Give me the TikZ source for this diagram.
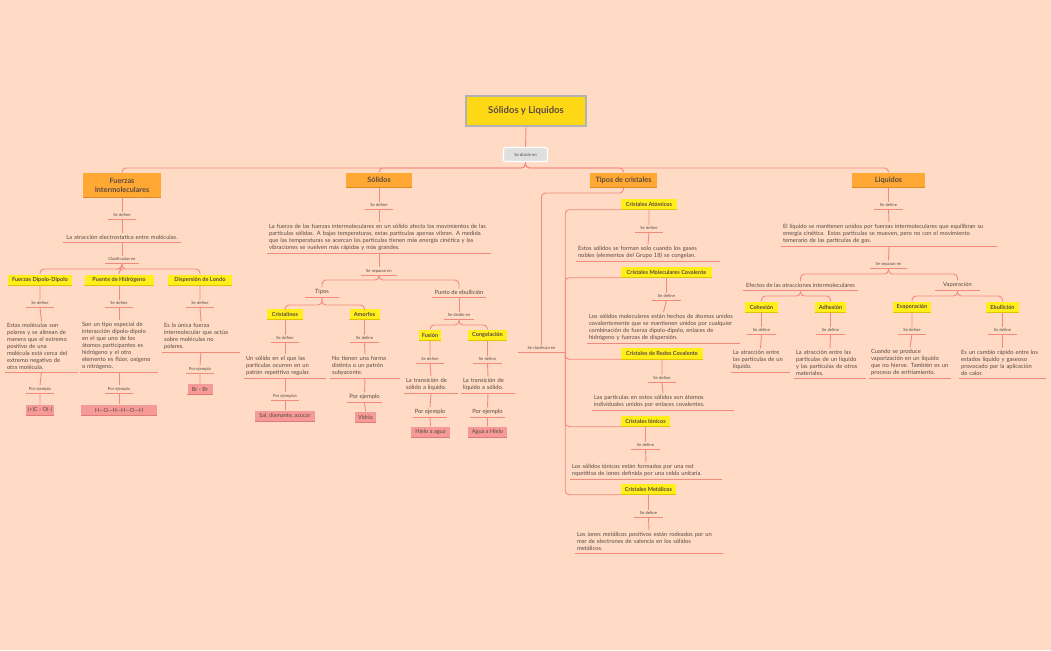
\documentclass[tikz,border=0pt]{standalone}
\usepackage{fontspec}
\setmainfont{Lato}
\definecolor{bg}{HTML}{FFDBC5}
\definecolor{lc}{HTML}{F2897A}
\definecolor{tc}{HTML}{5A4A42}
\definecolor{yc}{HTML}{FFEE1A}
\definecolor{yb}{HTML}{E0C400}
\definecolor{oc}{HTML}{FFA833}
\definecolor{ob}{HTML}{E08A20}
\definecolor{pc}{HTML}{F59A96}
\definecolor{pb}{HTML}{E07A76}
\begin{document}
\begin{tikzpicture}[x=1pt,y=-1pt,
ln/.style={draw=lc,line width=0.9pt},
br/.style={ln,rounded corners=4pt},
ul/.style={append after command={(\tikzlastnode.south west) edge[ln] (\tikzlastnode.south east)}},
bb/.style={append after command={(\tikzlastnode.south west) edge[draw=#1,line width=1pt] (\tikzlastnode.south east)}},
lbl/.style={font=\fontsize{4.2}{5}\selectfont,text=tc,inner sep=1.8pt,minimum width=28pt,anchor=south,ul},
lblb/.style={font=\fontsize{5.8}{6.5}\selectfont,text=tc,inner sep=2pt,minimum width=34pt,anchor=south,ul},
para/.style={font=\fontsize{5.8}{7}\selectfont,text=tc,align=left,inner sep=2pt,anchor=south,ul},
yel/.style={fill=yc,font=\bfseries\fontsize{5.6}{6}\selectfont,text=tc,inner sep=2pt,minimum height=11pt,bb=yb},
org/.style={fill=oc,font=\bfseries\fontsize{7.3}{9}\selectfont,text=tc,inner sep=2pt,minimum height=15pt,align=center,bb=ob},
pk/.style={fill=pc,font=\fontsize{5.6}{6}\selectfont,text=tc,inner sep=2pt,minimum height=11pt,bb=pb}
]
\fill[bg] (0,0) rectangle (1051,650);
\useasboundingbox (0,0) rectangle (1051,650);

% top
\node[fill=yc!80!orange,draw=gray!60,line width=1.2pt,font=\bfseries\fontsize{9.5}{11}\selectfont,text=tc,minimum width=120pt,minimum height=30pt] (top) at (526,111) {Sólidos y Liquidos};
\node[fill=gray!25,draw=white,line width=1.2pt,rounded corners=2pt,font=\fontsize{4.2}{5}\selectfont,text=tc,minimum width=44pt,minimum height=14pt] (div) at (525.5,154.5) {Se divide en};
\draw[ln] (top.south) -- (div.north);
\node[org,minimum width=78pt,minimum height=24pt] (fi) at (122,185) {Fuerzas\\Intermoleculares};
\node[org,minimum width=66pt] (so) at (379,180) {Sólidos};
\node[org,minimum width=67pt] (tcr) at (623.5,180) {Tipos de cristales};
\node[org,minimum width=73pt] (li) at (888.5,180) {Liquidos};
\foreach \n in {fi,so,tcr,li} \draw[br] (div.south) -- (525.5,168) -| (\n.north);

% Fuerzas intermoleculares
\node[lbl] (f1) at (122,219) {Se define};
\node[para,align=center,text width=113pt] (f2) at (122,242) {La atracción electrostatica entre moléculas.};
\node[lbl,minimum width=34pt] (f3) at (122,263) {Clasificadas en};
\draw[ln] (fi.south) -- (f1.north) (f1.south) -- (f2.north) (f2.south) -- (f3.north);
\node[yel,minimum width=64pt] (dd) at (40,280) {Fuerzas Dipolo-Dipolo};
\node[yel,minimum width=69pt] (ph) at (119,280) {Puente de Hidrógeno};
\node[yel,minimum width=64pt] (dl) at (200,280) {Dispersión de Londo};
\foreach \n in {dd,ph,dl} \draw[br] (f3.south) -- (122,269) -| (\n.north);

\node[lbl] (dd1) at (40,307) {Se define};
\node[para,text width=69pt] (dd2) at (41.5,372) {Estas moléculas son\\polares y se alinean de\\manera que el extremo\\positivo de una\\molécula está cerca del\\extremo negativo de\\otra molécula.};
\node[lbl] (dd3) at (40,393) {Por ejemplo};
\node[pk,minimum width=28pt] (dd4) at (40,410) {(+)C - O(-)};
\draw[ln] (dd.south) -- (dd1.north) (dd1.south) -- (dd2.north) (dd2.south) -- (dd3.north) (dd3.south) -- (dd4.north);

\node[lbl] (ph1) at (119,307) {Se define};
\node[para,text width=74pt] (ph2) at (119,372) {Son un tipo especial de\\interacción dipolo-dipolo\\en el que uno de los\\átomos participantes es\\hidrógeno y el otro\\elemento es flúor, oxígeno\\o nitrógeno.};
\node[lbl] (ph3) at (119,393) {Por ejemplo};
\node[pk,minimum width=76pt] (ph4) at (119,410) {H---O---H---H---O---H};
\draw[ln] (ph.south) -- (ph1.north) (ph1.south) -- (ph2.north) (ph2.south) -- (ph3.north) (ph3.south) -- (ph4.north);

\node[lbl] (dl1) at (200,307) {Se define};
\node[para,text width=74pt] (dl2) at (201,352) {Es la única fuerza\\intermolecular que actúa\\sobre moléculas no\\polares.};
\node[lbl] (dl3) at (200,373) {Por ejemplo};
\node[pk,minimum width=25pt] (dl4) at (200,389) {Br - Br};
\draw[ln] (dl.south) -- (dl1.north) (dl1.south) -- (dl2.north) (dl2.south) -- (dl3.north) (dl3.south) -- (dl4.north);

% Solidos
\node[lbl] (s1) at (379,209) {Se define};
\node[para,text width=220pt] (s2) at (379,253) {La fuerza de las fuerzas intermoleculares en un sólido afecta los movimientos de las\\partículas sólidas. A bajas temperaturas, estas partículas apenas vibran. A medida\\que las temperaturas se acercan las partículas tienen más energía cinética y las\\vibraciones se vuelven más rápidas y más grandes.};
\node[lbl,minimum width=36pt] (s3) at (379,275) {Se separan en};
\draw[ln] (so.south) -- (s1.north) (s1.south) -- (s2.north) (s2.south) -- (s3.north);
\node[lblb] (ti) at (322,297) {Tipos};
\node[lblb,minimum width=54pt] (pe) at (459,297) {Punto de ebullición};
\foreach \n in {ti,pe} \draw[br] (s3.south) -- (379,280) -| (\n.north);
\node[yel,minimum width=36pt] (cr) at (285,314) {Cristalinos};
\node[yel,minimum width=30pt] (am) at (364.5,314) {Amorfos};
\foreach \n in {cr,am} \draw[br] (ti.south) -- (322,305) -| (\n.north);

\node[lbl] (cr1) at (285,342) {Se define};
\node[para,text width=78pt] (cr2) at (285,378) {Un sólido en el que las\\partículas ocurren en un\\patrón repetitivo regular.};
\node[lbl] (cr3) at (285,400) {Por ejemplos};
\node[pk,minimum width=60pt] (cr4) at (285,416) {Sal, diamante, azúcar};
\draw[ln] (cr.south) -- (cr1.north) (cr1.south) -- (cr2.north) (cr2.south) -- (cr3.north) (cr3.south) -- (cr4.north);

\node[lbl] (am1) at (364.5,342) {Se define};
\node[para,text width=66pt] (am2) at (365,378) {No tienen una forma\\distinta o un patrón\\subyacente.};
\node[lblb] (am3) at (364.5,402) {Por ejemplo};
\node[pk,minimum width=21pt] (am4) at (365.5,417) {Vidrio};
\draw[ln] (am.south) -- (am1.north) (am1.south) -- (am2.north) (am2.south) -- (am3.north) (am3.south) -- (am4.north);

\node[lbl,minimum width=30pt] (pe1) at (459,319) {Se divide en};
\draw[ln] (pe.south) -- (pe1.north);
\node[yel,minimum width=22pt] (fu) at (430,335) {Fusión};
\node[yel,minimum width=39pt] (co) at (487.5,335) {Congelación};
\foreach \n in {fu,co} \draw[br] (pe1.south) -- (459,325) -| (\n.north);

\node[lbl] (fu1) at (430,363) {Se define};
\node[para,text width=50pt] (fu2) at (431,393) {La transición de\\sólido a líquido.};
\node[lblb] (fu3) at (430,417) {Por ejemplo};
\node[pk,minimum width=39pt] (fu4) at (430.5,432) {Hielo a agua};
\draw[ln] (fu.south) -- (fu1.north) (fu1.south) -- (fu2.north) (fu2.south) -- (fu3.north) (fu3.south) -- (fu4.north);

\node[lbl] (co1) at (487.5,363) {Se define};
\node[para,text width=50pt] (co2) at (488,393) {La transición de\\líquido a sólido.};
\node[lblb] (co3) at (487.5,417) {Por ejemplo};
\node[pk,minimum width=39pt] (co4) at (487.5,432) {Agua a Hielo};
\draw[ln] (co.south) -- (co1.north) (co1.south) -- (co2.north) (co2.south) -- (co3.north) (co3.south) -- (co4.north);

% Tipos de cristales
\node[lbl,minimum width=47pt] (sc) at (541.5,352) {Se clasifican en};
\draw[br] (tcr.south) -- (623.5,193) -| (sc.north);
\node[yel,minimum width=56pt] (c1) at (649,204) {Cristales Atómicos};
\node[yel,minimum width=91pt] (c2) at (666.5,272) {Cristales Moleculares Covalente};
\node[yel,minimum width=82pt] (c3) at (662,353.5) {Cristales de Redes Covalente};
\node[yel,minimum width=49pt] (c4) at (645.5,421) {Cristales Iónicos};
\node[yel,minimum width=55pt] (c5) at (648.5,489) {Cristales Metálicos};
\foreach \n in {c1,c2,c3,c4,c5} \draw[br] (sc.south east) |- (\n.south west);

\node[lbl] (c11) at (649,232) {Se define};
\node[para,text width=140pt] (c12) at (648,261) {Estos sólidos se forman solo cuando los gases\\nobles (elementos del Grupo 18) se congelan.};
\draw[ln] (c1.south) -- (c11.north) (c11.south) -- (c12.north);
\node[lbl] (c21) at (666.5,300) {Se define};
\node[para,text width=149pt] (c22) at (663.5,343) {Los sólidos moleculares están hechos de átomos unidos\\covalentemente que se mantienen unidos por cualquier\\combinación de fuerza dipolo-dipolo, enlaces de\\hidrógeno y fuerzas de dispersión.};
\draw[ln] (c2.south) -- (c21.north) (c21.south) -- (c22.north);
\node[lbl] (c31) at (662,382) {Se define};
\node[para,text width=138pt] (c32) at (663,410) {Las partículas en estos sólidos son átomos\\individuales unidos por enlaces covalentes.};
\draw[ln] (c3.south) -- (c31.north) (c31.south) -- (c32.north);
\node[lbl] (c41) at (645.5,449) {Se define};
\node[para,text width=148pt] (c42) at (646,479) {Los sólidos iónicos están formados por una red\\repetitiva de iones definida por una celda unitaria.};
\draw[ln] (c4.south) -- (c41.north) (c41.south) -- (c42.north);
\node[lbl] (c51) at (648.5,517) {Se define};
\node[para,text width=144pt] (c52) at (649,553) {Los iones metálicos positivos están rodeados por un\\mar de electrones de valencia en los sólidos\\metálicos.};
\draw[ln] (c5.south) -- (c51.north) (c51.south) -- (c52.north);

% Liquidos
\node[lbl] (l1) at (888.5,209) {Se define};
\node[para,text width=212pt] (l2) at (889,246) {El líquido se mantienen unidos por fuerzas intermoleculares que equilibran su\\energía cinética. Estas partículas se mueven, pero no con el movimiento\\temerario de las partículas de gas.};
\node[lbl,minimum width=36pt] (l3) at (888.5,268) {Se separan en};
\draw[ln] (li.south) -- (l1.north) (l1.south) -- (l2.north) (l2.south) -- (l3.north);
\node[lblb,minimum width=115pt] (ef) at (800.5,290) {Efectos de las atracciones intermoleculares};
\node[lblb,minimum width=45pt] (va) at (957.5,290) {Vaporación};
\foreach \n in {ef,va} \draw[br] (l3.south) -- (888.5,274) -| (\n.north);
\node[yel,minimum width=33pt] (ch) at (761.5,307) {Cohesión};
\node[yel,minimum width=31pt] (ad) at (830.5,307) {Adhesión};
\foreach \n in {ch,ad} \draw[br] (ef.south) -- (800.5,296) -| (\n.north);
\node[yel,minimum width=38pt] (ev) at (912,307) {Evaporación};
\node[yel,minimum width=33pt] (eb) at (1002.5,307) {Ebullición};
\foreach \n in {ev,eb} \draw[br] (va.south) -- (957.5,296) -| (\n.north);

\node[lbl] (ch1) at (761.5,334) {Se define};
\node[para,text width=55pt] (ch2) at (760.5,372) {La atracción entre\\las partículas de un\\líquido.};
\draw[ln] (ch.south) -- (ch1.north) (ch1.south) -- (ch2.north);
\node[lbl] (ad1) at (830.5,334) {Se define};
\node[para,text width=68pt] (ad2) at (830,378) {La atracción entre las\\partículas de un líquido\\y las partículas de otros\\materiales.};
\draw[ln] (ad.south) -- (ad1.north) (ad1.south) -- (ad2.north);
\node[lbl] (ev1) at (912,334) {Se define};
\node[para,text width=78pt] (ev2) at (910,378) {Cuando se produce\\vaporización en un líquido\\que no hierve. También es un\\proceso de enfriamiento.};
\draw[ln] (ev.south) -- (ev1.north) (ev1.south) -- (ev2.north);
\node[lbl] (eb1) at (1002.5,334) {Se define};
\node[para,text width=83pt] (eb2) at (1002.5,378) {Es un cambio rápido entre los\\estados líquido y gaseoso\\provocado por la aplicación\\de calor.};
\draw[ln] (eb.south) -- (eb1.north) (eb1.south) -- (eb2.north);
\end{tikzpicture}
\end{document}
